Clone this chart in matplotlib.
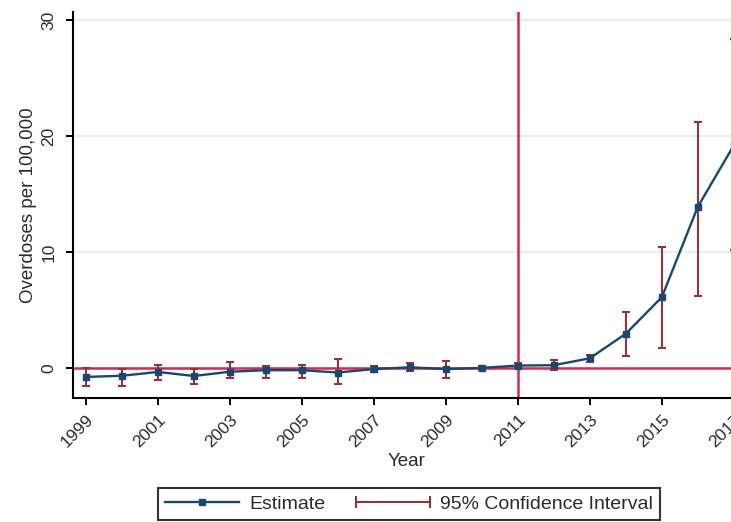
import matplotlib
matplotlib.use("Agg")
import matplotlib.pyplot as plt
from matplotlib.lines import Line2D
from matplotlib.legend_handler import HandlerLine2D

plt.rcParams['font.family'] = ['Liberation Sans', 'DejaVu Sans']

# ---------- Data ----------
years = list(range(1999, 2018))
estimate = [-0.78, -0.68, -0.35, -0.70, -0.33, -0.20, -0.20, -0.40, -0.10, 0.05,
            -0.10, 0.00, 0.20, 0.23, 0.83, 2.95, 6.10, 13.90, 19.20]
ci_low = [-1.55, -1.60, -1.05, -1.35, -0.90, -0.85, -0.85, -1.35, -0.35, -0.30,
          -0.90, -0.20, 0.00, -0.20, 0.55, 1.00, 1.70, 6.20, 10.20]
ci_high = [0.00, -0.10, 0.25, -0.10, 0.50, 0.20, 0.25, 0.75, 0.15, 0.45,
           0.60, 0.20, 0.40, 0.65, 1.10, 4.85, 10.40, 21.20, 28.40]
xtick_years = list(range(1999, 2018, 2))
yticks = [0, 10, 20, 30]
policy_year = 2011

NAVY = '#1a476f'
MAROON = '#90353b'
RED = '#d42a50'
GRID = '#e6eff1'
TEXT = '#2a2a35'

fig = plt.figure(figsize=(7.31, 5.22), dpi=100)
ax = fig.add_axes([0.0999, 0.2375, 0.9138, 0.7395])

# reference lines
ax.axhline(0, color=RED, lw=1.8, zorder=2)
ax.axvline(policy_year, color=RED, lw=1.8, zorder=2)

# confidence interval caps
err_lo = [e - l for e, l in zip(estimate, ci_low)]
err_hi = [h - e for e, h in zip(estimate, ci_high)]
ax.errorbar(years, estimate, yerr=[err_lo, err_hi], fmt='none',
            ecolor=MAROON, elinewidth=1.5, capsize=3.2, capthick=1.5, zorder=3)
ax.plot(years, estimate, color=NAVY, lw=1.7, marker='s', ms=5,
        mfc=NAVY, mec=NAVY, zorder=4)

ax.set_xlim(1998.64, 2017.2)
ax.set_ylim(-2.6, 30.7)
ax.set_yticks(yticks)
ax.set_xticks(xtick_years)
ax.set_xticklabels([str(y) for y in xtick_years], rotation=45, ha='right',
                   rotation_mode='anchor')
ax.set_yticklabels([str(v) for v in yticks], rotation=90, va='center')

ax.tick_params(axis='both', direction='out', length=5, width=1.4, colors='black',
               labelcolor=TEXT, labelsize=12.5)
ax.tick_params(axis='y', pad=7)
ax.tick_params(axis='x', pad=5)

ax.grid(axis='y', color=GRID, lw=1.5)
ax.set_axisbelow(True)
for side in ['top', 'right']:
    ax.spines[side].set_visible(False)
for side in ['left', 'bottom']:
    ax.spines[side].set_linewidth(1.5)
    ax.spines[side].set_color('black')

ax.set_xlabel('Year', color=TEXT, fontsize=13.5, labelpad=2)
ax.set_ylabel('Overdoses per 100,000', color=TEXT, fontsize=13.5, labelpad=3)

# legend
h_est = Line2D([], [], color=NAVY, lw=1.7, marker='s', ms=5)
h_ci = Line2D([], [], color=MAROON, lw=1.5, marker='|', ms=8, mew=1.5)
leg = fig.legend([h_est, h_ci], ['Estimate', '95% Confidence Interval'],
                 loc='lower center', bbox_to_anchor=(409 / 731, 0.0), ncol=2,
                 frameon=True, fancybox=False, edgecolor='black', fontsize=14,
                 handlelength=3.8, columnspacing=1.55, handletextpad=0.54,
                 borderpad=0.38, borderaxespad=0.1, labelcolor=TEXT,
                 handler_map={h_est: HandlerLine2D(numpoints=1),
                              h_ci: HandlerLine2D(numpoints=2, marker_pad=0)})
leg.get_frame().set_linewidth(1.5)

fig.savefig('out.png', dpi=100)
